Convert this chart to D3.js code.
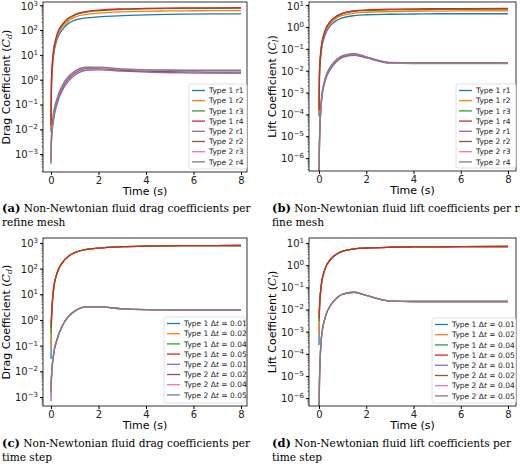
<!DOCTYPE html>
<html><head><meta charset="utf-8">
<script src="https://cdn.jsdelivr.net/npm/d3@7"></script>
<style>body{margin:0;background:#fff}</style>
</head><body><div class="chart"></div>
<script>
const times = [0,0.02,0.1,0.25,0.5,0.75,1,1.5,2,3,4,5,6,8];
const colors = ['#1f77b4','#ff7f0e','#2ca02c','#d62728','#9467bd','#8c564b','#e377c2','#7f7f7f'];
const namesMesh = ['Type 1 r1','Type 1 r2','Type 1 r3','Type 1 r4','Type 2 r1','Type 2 r2','Type 2 r3','Type 2 r4'];
const namesStep = ['0.01','0.02','0.04','0.05','0.01','0.02','0.04','0.05'];

// (a) drag, refine mesh
const dragMesh = [
  [0.008,0.5,8,40,110,190,250,310,340,380,410,430,440,450],
  [0.01,0.7,10,50,140,240,330,430,480,540,570,590,600,610],
  [0.02,0.9,12,60,170,290,400,530,600,680,720,740,750,760],
  [0.015,1,13,65,180,310,420,560,630,710,750,770,780,790],
  [0.0004,0.003,0.02,0.1,0.4,0.9,1.5,2.4,2.5,2.2,2.0,1.9,1.85,1.8],
  [0.0005,0.004,0.03,0.13,0.5,1.1,1.8,2.8,2.8,2.4,2.2,2.1,2.05,2.0],
  [0.0005,0.005,0.035,0.15,0.6,1.3,2.1,3.1,3.0,2.6,2.4,2.35,2.3,2.3],
  [0.0006,0.006,0.04,0.17,0.65,1.4,2.2,3.2,3.2,2.7,2.5,2.45,2.4,2.4]
];
// (b) lift, refine mesh
const liftMesh = [
  [8e-5,0.005,0.08,0.4,1.2,2.0,2.6,3.3,3.6,3.8,3.9,4.0,4.0,4.0],
  [1e-4,0.007,0.1,0.5,1.5,2.6,3.4,4.3,4.7,5.0,5.2,5.3,5.4,5.5],
  [2e-4,0.008,0.12,0.6,1.8,3.0,4.0,5.1,5.6,6.0,6.2,6.3,6.4,6.5],
  [1.5e-4,0.009,0.13,0.65,1.9,3.2,4.3,5.5,6.0,6.5,6.7,6.8,6.9,7.0],
  [1e-7,4e-6,3e-4,0.003,0.012,0.026,0.04,0.05,0.038,0.022,0.021,0.021,0.021,0.021],
  [1e-7,5e-6,4e-4,0.0035,0.014,0.029,0.044,0.056,0.041,0.023,0.022,0.022,0.022,0.022],
  [1e-7,5e-6,4e-4,0.0038,0.015,0.031,0.047,0.058,0.042,0.023,0.022,0.022,0.022,0.022],
  [1e-7,6e-6,5e-4,0.004,0.016,0.033,0.049,0.06,0.043,0.024,0.023,0.023,0.023,0.023]
];
// (c) drag, time step
const dragStep = [
  [0.03,1,13,65,180,310,420,560,630,710,750,770,780,790],
  [0.08,1,13,65,180,310,420,560,630,710,750,770,780,790],
  [0.3,1.2,13,65,180,310,420,560,630,710,750,770,780,790],
  [0.5,1.3,13,65,180,310,420,560,630,710,750,770,780,790],
  [0.0007,0.006,0.04,0.17,0.65,1.4,2.2,3.2,3.2,2.7,2.5,2.45,2.4,2.4],
  [0.002,0.006,0.04,0.17,0.65,1.4,2.2,3.2,3.2,2.7,2.5,2.45,2.4,2.4],
  [0.001,0.006,0.04,0.17,0.65,1.4,2.2,3.2,3.2,2.7,2.5,2.45,2.4,2.4],
  [0.0015,0.006,0.04,0.17,0.65,1.4,2.2,3.2,3.2,2.7,2.5,2.45,2.4,2.4]
];
// (d) lift, time step
const liftStep = [
  [2.5e-4,0.009,0.13,0.65,1.9,3.2,4.3,5.5,6.0,6.5,6.7,6.8,6.9,7.0],
  [7e-4,0.01,0.13,0.65,1.9,3.2,4.3,5.5,6.0,6.5,6.7,6.8,6.9,7.0],
  [3e-3,0.012,0.13,0.65,1.9,3.2,4.3,5.5,6.0,6.5,6.7,6.8,6.9,7.0],
  [4e-3,0.013,0.14,0.65,1.9,3.2,4.3,5.5,6.0,6.5,6.7,6.8,6.9,7.0],
  [1e-7,6e-6,5e-4,0.004,0.016,0.033,0.05,0.06,0.043,0.024,0.023,0.023,0.023,0.023],
  [1e-7,6e-6,5e-4,0.004,0.016,0.033,0.05,0.06,0.043,0.024,0.023,0.023,0.023,0.023],
  [1e-7,6e-6,5e-4,0.004,0.016,0.033,0.05,0.06,0.043,0.024,0.023,0.023,0.023,0.023],
  [1e-7,6e-6,5e-4,0.004,0.016,0.033,0.05,0.06,0.043,0.024,0.023,0.023,0.023,0.023]
];
const dragTicks = [-3,-2,-1,0,1,2,3];
const liftTicks = [-6,-5,-4,-3,-2,-1,0,1];
const xTicks = [0,2,4,6,8];

const svg = d3.select('.chart').append('svg').attr('width',520).attr('height',466)
  .style('font-family','DejaVu Sans');

const panels = [
  {data:dragMesh, ticks:dragTicks, lab:'Drag Coefficient (', sub:'d', step:false,
   box:[43,247,2,172], x:[51,241], y:[Math.pow(10,3.13),Math.pow(10,-3.72)], leg:[189,84,58],
   cap:['(a)',' Non-Newtonian fluid drag coefficients per','refine mesh'], cx:2, cy:212},
  {data:liftMesh, ticks:liftTicks, lab:'Lift Coefficient (', sub:'l', step:false,
   box:[309,516,2,171], x:[319,508], y:[Math.pow(10,1.14),Math.pow(10,-6.59)], leg:[456,84,60],
   cap:['(b)',' Non-Newtonian fluid lift coefficients per re-','fine mesh'], cx:272, cy:212},
  {data:dragStep, ticks:dragTicks, lab:'Drag Coefficient (', sub:'d', step:true,
   box:[43,247,238,406], x:[51,241], y:[Math.pow(10,3.19),Math.pow(10,-3.35)], leg:[164,317,81],
   cap:['(c)',' Non-Newtonian fluid drag coefficients per','time step'], cx:2, cy:447},
  {data:liftStep, ticks:liftTicks, lab:'Lift Coefficient (', sub:'l', step:true,
   box:[309,516,238,406], x:[319,508], y:[Math.pow(10,1.23),Math.pow(10,-6.36)], leg:[432,318,84],
   cap:['(d)',' Non-Newtonian fluid lift coefficients per','time step'], cx:272, cy:447}
];

panels.forEach((p,pi)=>{
  const [l,r,t,b] = p.box;
  const xScale = d3.scaleLinear().domain([0,8]).range(p.x);
  const yScale = d3.scaleLog().domain([p.y[1],p.y[0]]).range([b,t]);
  const g = svg.append('g');
  g.append('clipPath').attr('id','clip'+pi).append('rect')
    .attr('x',l).attr('y',t).attr('width',r-l).attr('height',b-t);

  const line = d3.line().x((d,i)=>xScale(times[i])).y(d=>yScale(d)).curve(d3.curveMonotoneX);
  g.append('g').attr('clip-path','url(#clip'+pi+')').selectAll('path')
    .data(p.data).enter().append('path')
    .attr('d',line).attr('fill','none')
    .attr('stroke',(d,i)=>colors[i]).attr('stroke-width',1.3);

  g.append('rect').attr('x',l).attr('y',t).attr('width',r-l).attr('height',b-t)
    .attr('fill','none').attr('stroke','#000').attr('stroke-width',0.8);

  // x axis
  const xa = g.append('g').attr('transform',`translate(0,${b})`)
    .call(d3.axisBottom(xScale).tickValues(xTicks).tickSize(3).tickFormat(d3.format('d')));
  xa.select('.domain').remove();
  xa.selectAll('text').attr('font-size',10).attr('font-family','DejaVu Sans').attr('fill','#222').attr('dy','0.6em');
  g.append('text').attr('x',(l+r)/2).attr('y',b+23).attr('text-anchor','middle')
    .attr('font-size',11).text('Time (s)');

  // y axis with superscript labels
  const ya = g.append('g').attr('transform',`translate(${l},0)`)
    .call(d3.axisLeft(yScale).tickValues(p.ticks.map(e=>Math.pow(10,e))).tickSize(3).tickFormat(''));
  ya.select('.domain').remove();
  p.ticks.forEach(e=>{
    const tx = g.append('text').attr('x',l-5).attr('y',Math.max(yScale(Math.pow(10,e))+4,10))
      .attr('text-anchor','end').attr('font-size',10).attr('fill','#222');
    tx.append('tspan').text('10');
    tx.append('tspan').attr('dy',-4).attr('font-size',7).text(e<0?'\u2212'+(-e):e);
  });
  // minor ticks
  const minors=[];
  d3.range(Math.floor(Math.log10(p.y[1])),Math.ceil(Math.log10(p.y[0]))).forEach(e=>{
    for(let k=2;k<10;k++){const v=k*Math.pow(10,e); if(v>p.y[1]&&v<p.y[0]) minors.push(v);}
  });
  g.selectAll(null).data(minors).enter().append('line')
    .attr('x1',l-1.5).attr('x2',l).attr('y1',d=>yScale(d)).attr('y2',d=>yScale(d)).attr('stroke','#000').attr('stroke-width',0.5);

  const ylab = g.append('text').attr('transform',`translate(${l-33},${(t+b)/2}) rotate(-90)`)
    .attr('text-anchor','middle').attr('font-size',11);
  ylab.append('tspan').text(p.lab);
  ylab.append('tspan').attr('font-family','DejaVu Serif').attr('font-style','italic').text('C');
  ylab.append('tspan').attr('font-family','DejaVu Serif').attr('font-style','italic').attr('font-size',8).attr('dy',2).text(p.sub);
  ylab.append('tspan').attr('dy',-2).text(')');

  // legend
  const [lx,ly,lw] = p.leg;
  g.append('rect').attr('x',lx).attr('y',ly).attr('width',lw).attr('height',b-3-ly)
    .attr('fill','#fff').attr('fill-opacity',0.85).attr('stroke','#ccc').attr('stroke-width',0.6).attr('rx',2);
  p.data.forEach((d,i)=>{
    const yy = ly+6.5+i*10.2;
    g.append('line').attr('x1',lx+3).attr('x2',lx+16).attr('y1',yy).attr('y2',yy)
      .attr('stroke',colors[i]).attr('stroke-width',1.3);
    const tx = g.append('text').attr('x',lx+20).attr('y',yy+2.7).attr('font-size',7.5).attr('fill','#222');
    if(p.step){
      tx.append('tspan').text((i<4?'Type 1 ':'Type 2 ')+'\u0394');
      tx.append('tspan').attr('font-style','italic').attr('font-family','DejaVu Serif').text('t');
      tx.append('tspan').text(' = '+namesStep[i]);
    } else tx.text(namesMesh[i]);
  });

  // caption
  const c1 = svg.append('text').attr('x',p.cx).attr('y',p.cy).attr('font-family','DejaVu Serif').attr('font-size',10.6);
  c1.append('tspan').attr('font-weight','bold').attr('font-size',11.5).text(p.cap[0]);
  c1.append('tspan').text(p.cap[1]);
  svg.append('text').attr('x',p.cx).attr('y',p.cy+14).attr('font-family','DejaVu Serif').attr('font-size',10.6).text(p.cap[2]);
});
</script></body></html>
